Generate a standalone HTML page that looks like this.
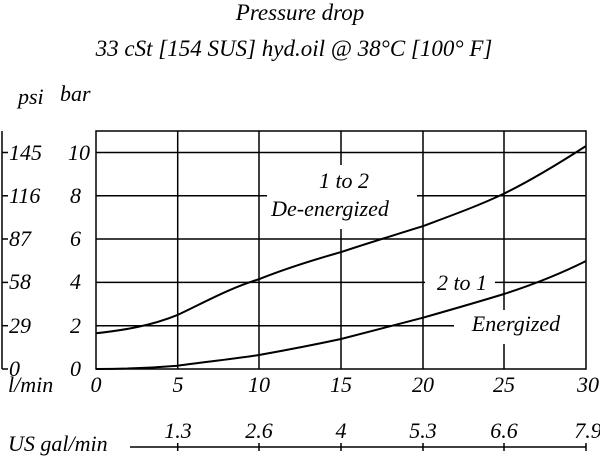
<!DOCTYPE html>
<html><head><style>
body{margin:0;background:#fff}
svg{display:block}
text{font-family:"Liberation Serif",serif;font-style:italic;font-size:22px;fill:#000}
</style></head><body>
<svg width="600" height="456" viewBox="0 0 600 456">
<text x="300" y="20" text-anchor="middle" style="font-size:23px">Pressure   drop</text>
<text x="294" y="56" text-anchor="middle" style="font-size:23px">33 cSt [154 SUS] hyd.oil @ 38°C [100° F]</text>
<text x="18" y="104">psi</text><text x="60" y="101">bar</text>
<g stroke="#000" stroke-width="1.5" fill="none">
<rect x="96" y="131" width="490" height="238"/>
<line x1="96" y1="152.5" x2="586" y2="152.5"/>
<line x1="96" y1="195.8" x2="267" y2="195.8"/><line x1="417" y1="195.8" x2="586" y2="195.8"/>
<line x1="96" y1="239" x2="586" y2="239"/>
<line x1="96" y1="282.4" x2="425" y2="282.4"/><line x1="495" y1="282.4" x2="586" y2="282.4"/>
<line x1="96" y1="325.7" x2="454" y2="325.7"/>
<line x1="177.7" y1="131" x2="177.7" y2="369"/>
<line x1="259" y1="131" x2="259" y2="369"/>
<line x1="341" y1="131" x2="341" y2="165"/><line x1="341" y1="229" x2="341" y2="369"/>
<line x1="423" y1="131" x2="423" y2="369"/>
<line x1="504" y1="131" x2="504" y2="310"/><line x1="504" y1="344" x2="504" y2="369"/>
<line x1="2" y1="131" x2="2" y2="369"/>
<line x1="2" y1="152.5" x2="8" y2="152.5"/><line x1="2" y1="195.8" x2="8" y2="195.8"/><line x1="2" y1="239" x2="8" y2="239"/><line x1="2" y1="282.4" x2="8" y2="282.4"/><line x1="2" y1="325.7" x2="8" y2="325.7"/><line x1="2" y1="369" x2="8" y2="369"/>
<line x1="130" y1="447" x2="586" y2="447"/>
<line x1="177.7" y1="443" x2="177.7" y2="451"/><line x1="259" y1="443" x2="259" y2="451"/><line x1="341" y1="443" x2="341" y2="451"/><line x1="423" y1="443" x2="423" y2="451"/><line x1="504" y1="443" x2="504" y2="451"/><line x1="586" y1="443" x2="586" y2="451"/>
<path stroke-width="2" d="M96,333.3 C125,330 150,326 177.7,314.9 C205,302 230,288 259,279.2 C287,268 313,260 341,252.1 C368,243 395,235 423,226.1 C450,216 478,206 504,193.6 C532,180 558,164 586,146"/>
<path stroke-width="2" d="M96,369 C130,369 150,368 177.7,365.7 C205,362 232,359 259,355 C287,350 313,345 341,339 C368,332 395,325 423,317.7 C450,310 478,302 504,294 C532,285 560,274 586,261"/>
</g>
<g text-anchor="start">
<text x="9" y="160">145</text><text x="9" y="203">116</text><text x="9" y="246">87</text><text x="9" y="289">58</text><text x="9" y="333">29</text><text x="9" y="376">0</text>
</g>
<g text-anchor="end">
<text x="90" y="160">10</text><text x="81" y="203">8</text><text x="81" y="246">6</text><text x="81" y="289">4</text><text x="81" y="333">2</text><text x="81" y="376">0</text>
</g>
<text x="8" y="392">l/min</text>
<g text-anchor="middle">
<text x="96" y="392">0</text><text x="178" y="392">5</text><text x="259" y="392">10</text><text x="341" y="392">15</text><text x="423" y="392">20</text><text x="504" y="392">25</text><text x="588" y="392">30</text>
<text x="178" y="438">1.3</text><text x="259" y="438">2.6</text><text x="341" y="438">4</text><text x="423" y="438">5.3</text><text x="504" y="438">6.6</text><text x="588" y="438">7.9</text>
<text x="344" y="188">1 to 2</text><text x="330" y="216">De-energized</text>
<text x="462" y="290">2 to 1</text><text x="516" y="331">Energized</text>
</g>
<text x="8" y="451">US gal/min</text>
</svg>
</body></html>
